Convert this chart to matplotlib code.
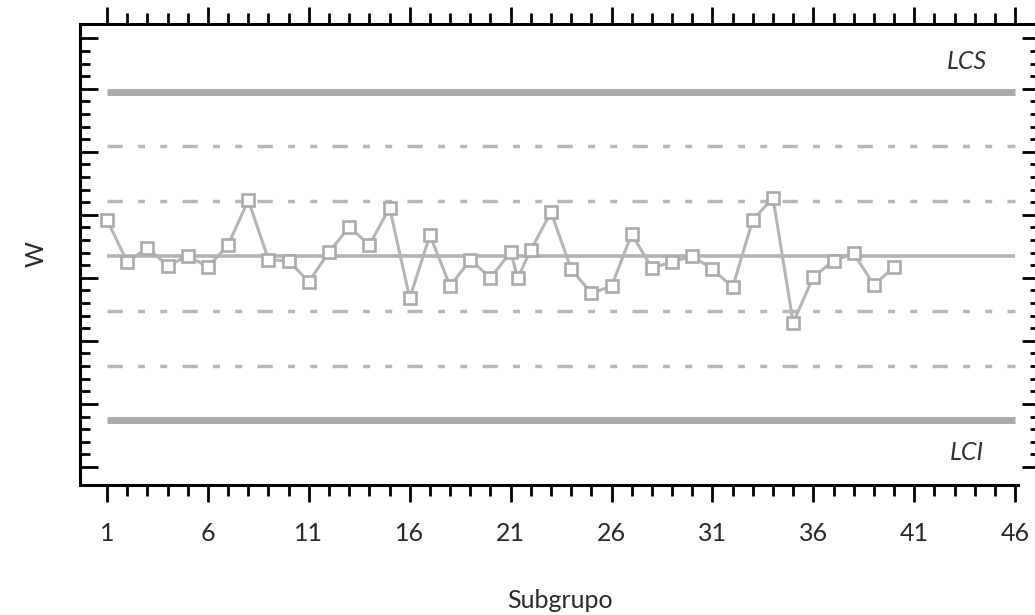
import numpy as np
import matplotlib
matplotlib.use("Agg")
import matplotlib.pyplot as plt
from matplotlib.ticker import FixedLocator, NullFormatter

plt.rcParams["font.family"] = ["Lato", "DejaVu Sans"]
plt.rcParams["lines.scale_dashes"] = False

# subgrupos (hay un punto extra justo después del 21)
subgrupos = list(range(1, 22)) + [21.35] + list(range(22, 41))
w = [0.66, -0.11, 0.15, -0.18, 0.00, -0.20, 0.20, 1.02, -0.07, -0.09,
     -0.47, 0.07, 0.53, 0.20, 0.88, -0.77, 0.38, -0.55, -0.07, -0.40,
     0.07, -0.40, 0.11, 0.80, -0.24, -0.68, -0.55, 0.40, -0.22, -0.11,
     0.00, -0.24, -0.57, 0.66, 1.06, -1.22, -0.38, -0.09, 0.05, -0.53,
     -0.20]

lc = 0.0
sigma = 1.0
lcs = lc + 3 * sigma
lci = lc - 3 * sigma
x_ticks = list(range(1, 47, 5))
x_minor = list(range(1, 47))
x_first, x_last = 1, 46

fig = plt.figure(figsize=(10.35, 6.15), dpi=100)
ax = fig.add_axes([0.0773, 0.2114, 0.9275, 0.7496])

gris = "#aaaaaa"
# límites de control
ax.hlines([lcs, lci], x_first, x_last, color=gris, lw=5, zorder=1)
ax.hlines(lc, x_first, x_last, color="#b3b3b3", lw=2.6, zorder=1)
patron = (0, (11, 11, 5, 11, 5, 11))
for k in (1, 2):
    for s in (1, -1):
        ax.hlines(lc + s * k * sigma, x_first, x_last, color="#b8b8b8",
                  lw=2.5, linestyles=[patron], zorder=1)

ax.plot(subgrupos, w, color="#b5b5b5", lw=2.2, marker="s", ms=9,
        mfc="white", mec="#ababab", mew=1.9, zorder=3)

ax.text(43.6, lcs + 0.55, "LCS", style="italic", fontsize=18,
        color="#333333", ha="center", va="center")
ax.text(43.6, lci - 0.58, "LCI", style="italic", fontsize=18,
        color="#333333", ha="center", va="center")

ax.set_xlim(-0.34, 47.23)
ax.set_ylim(-4.18, 4.234)

ax.xaxis.set_major_locator(FixedLocator(x_ticks))
ax.xaxis.set_minor_locator(FixedLocator(x_minor))
ax.set_xticklabels([str(t) for t in x_ticks])

yk = np.arange(0, 35)
y_minor = -3.85 + 0.23 * yk
y_major = [y_minor[i] for i in (0, 5, 10, 15, 20, 25, 30, 34)]
ax.yaxis.set_major_locator(FixedLocator(y_major))
ax.yaxis.set_minor_locator(FixedLocator(y_minor))
ax.yaxis.set_major_formatter(NullFormatter())

ax.tick_params(axis="x", which="both", direction="out", top=True,
               bottom=True, width=2.0, labelsize=18, labelcolor="#2a2a2a",
               pad=15)
ax.tick_params(axis="x", which="major", length=12)
ax.tick_params(axis="x", which="minor", length=8)
ax.tick_params(axis="y", which="both", direction="in", left=True,
               right=True, width=2.0)
ax.tick_params(axis="y", which="major", length=13)
ax.tick_params(axis="y", which="minor", length=7)

for lado in ("left", "top", "bottom"):
    ax.spines[lado].set_linewidth(2.2)
ax.spines["right"].set_visible(False)
ax.spines["bottom"].set_bounds(-0.34, 46.15)

ax.set_xlabel("Subgrupo", fontsize=18, color="#2a2a2a", labelpad=31)
ax.set_ylabel("W", fontsize=18, color="#2a2a2a", labelpad=20)

fig.savefig("out.png", dpi=100)
